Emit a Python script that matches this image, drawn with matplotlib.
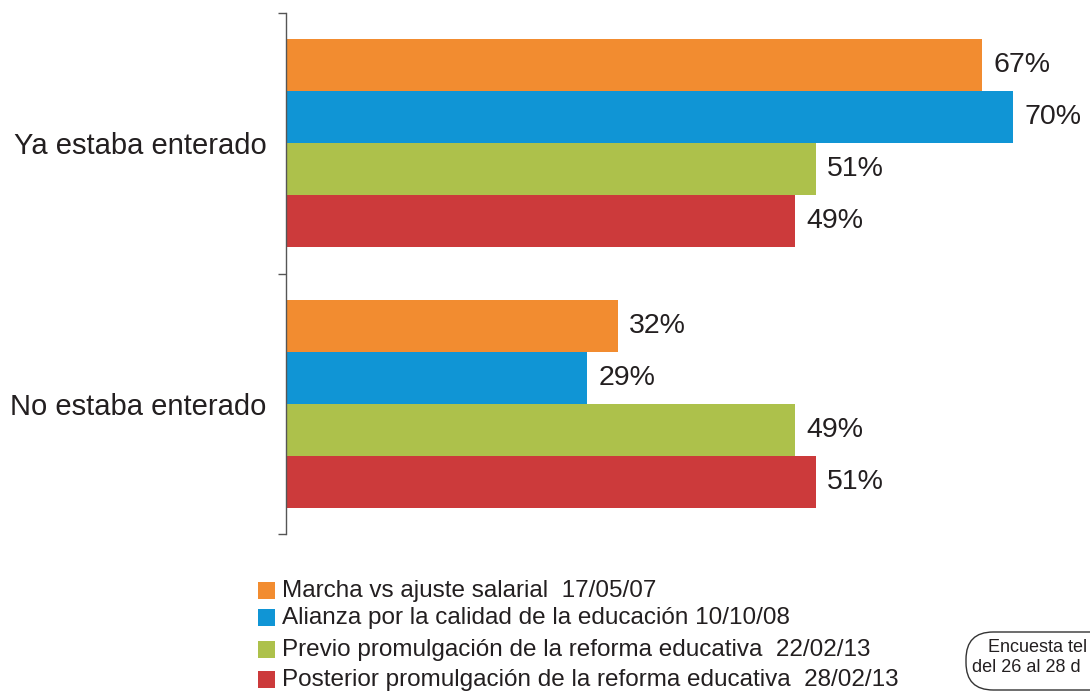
import matplotlib
matplotlib.use("Agg")
import matplotlib.pyplot as plt
from matplotlib.patches import FancyBboxPatch, Rectangle
from matplotlib import font_manager

categories = ["Ya estaba enterado", "No estaba enterado"]
series_names = [
    "Marcha vs ajuste salarial  17/05/07",
    "Alianza por la calidad de la educación 10/10/08",
    "Previo promulgación de la reforma educativa  22/02/13",
    "Posterior promulgación de la reforma educativa  28/02/13",
]
values = [
    [67, 32],
    [70, 29],
    [51, 49],
    [49, 51],
]
colors = ["#F28C30", "#1095D5", "#ADC14B", "#CC3A3B"]
note_lines = ["Encuesta tel", "del 26 al 28 d"]

names = {f.name for f in font_manager.fontManager.ttflist}
main_font = "Liberation Sans" if "Liberation Sans" in names else "DejaVu Sans"
plt.rcParams["font.family"] = [main_font, "DejaVu Sans"]
txt_color = "#231F20"

W, H = 1090, 694
fig = plt.figure(figsize=(W / 100, H / 100), dpi=100)
ax_left, ax_right, ax_top, ax_bot = 286, 1090, 13, 534
ax = fig.add_axes([ax_left / W, 1 - ax_bot / H, (ax_right - ax_left) / W, (ax_bot - ax_top) / H])

px_per_unit = 10.39
ax.set_xlim(0, (ax_right - ax_left) / px_per_unit)
ax.set_ylim(1.5, -0.5)

bar_h = 0.2
offsets = [-0.3, -0.1, 0.1, 0.3]
for i, (vals, c) in enumerate(zip(values, colors)):
    ys = [k + offsets[i] for k in range(len(categories))]
    ax.barh(ys, vals, height=bar_h, color=c, edgecolor="none")
    for y, v in zip(ys, vals):
        ax.text(v + 1.05, y, f"{v}%", va="center", ha="left", fontsize=20.5, color=txt_color)

for s in ["top", "right", "bottom"]:
    ax.spines[s].set_visible(False)
ax.spines["left"].set_color("#555555")
ax.spines["left"].set_linewidth(1.0)
ax.set_xticks([])
ax.set_yticks(range(len(categories)))
ax.set_yticklabels(categories, fontsize=21, color=txt_color)
ax.tick_params(axis="y", which="major", length=0, pad=14)
ax.set_yticks([-0.5, 0.5, 1.5], minor=True)
ax.tick_params(axis="y", which="minor", length=6, width=1.0, color="#555555", direction="out")

# legend (manual rows)
rows_y = [591, 618, 650, 680]
for name, c, yy in zip(series_names, colors, rows_y):
    fig.patches.append(Rectangle((258 / W, 1 - (yy + 8) / H), 17 / W, 17 / H,
                                 transform=fig.transFigure, facecolor=c, edgecolor="none"))
    fig.text(282 / W, 1 - yy / H, name, va="center", ha="left", fontsize=17.5,
             color=txt_color)

# note box (clipped at the right edge, as in the reference)
box = FancyBboxPatch((966 / W, 1 - 690 / H), 200 / W, 58 / H,
                     boxstyle="round,pad=0,rounding_size=0.025",
                     transform=fig.transFigure, facecolor="white", edgecolor="#333333",
                     linewidth=1.0, mutation_aspect=W / H)
fig.patches.append(box)
fig.text(988 / W, 1 - 648 / H, note_lines[0], va="center", ha="left", fontsize=13, color=txt_color)
fig.text(972 / W, 1 - 667 / H, note_lines[1], va="center", ha="left", fontsize=13, color=txt_color)

fig.savefig("out.png", dpi=100)
